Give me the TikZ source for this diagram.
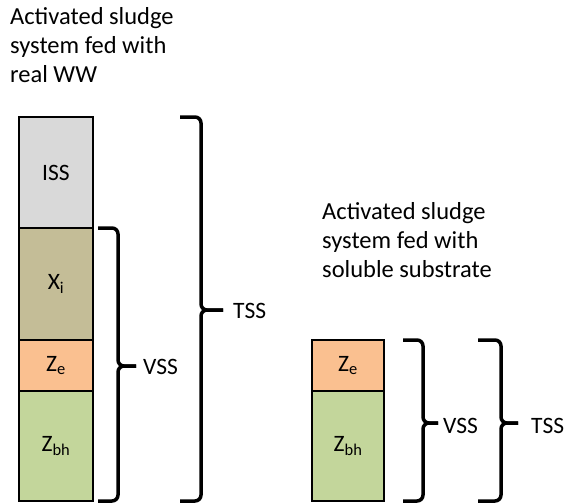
\documentclass[tikz,border=0pt]{standalone}
\usepackage{fontspec}
\setmainfont{Carlito}
\usepackage{tikz}
\usetikzlibrary{positioning}
\definecolor{issgray}{HTML}{D9D9D9}
\definecolor{xitan}{HTML}{C4BD97}
\definecolor{zeorange}{HTML}{FAC090}
\definecolor{zbhgreen}{HTML}{C3D69B}
\tikzset{x=1pt, y=-1pt, node distance=0pt,
  every node/.style={font=\fontsize{23.5}{29}\selectfont},
  seg/.style={draw, line width=1.2pt, minimum width=74pt, outer sep=0pt, inner sep=0pt},
  curly/.style={line width=3.5pt, rounded corners=6pt},
  lbl/.style={anchor=west, inner sep=0pt},
  title/.style={anchor=base west, align=left, inner sep=0pt, font=\fontsize{24.5}{29}\selectfont}}
\newcommand{\curlybrace}[6]{%
  \draw[curly] (#1,#3) -- (#2,#3) -- (#2,#4) -- (#6,#4);
  \draw[curly] (#1,#5) -- (#2,#5) -- (#2,#4) -- (#6,#4);}

\begin{document}
\begin{tikzpicture}
                \useasboundingbox (0,0) rectangle (577,503);
                \node (title1) [title] at (10,82)  {Activated sludge\\system fed with\\real WW};
                \node (title2) [title] at (322,277) {Activated sludge\\system fed with\\soluble substrate};
                \node (iss) [seg, fill=issgray, minimum height=111pt] at (56,172.5) {ISS};
                \node (xi)  [seg, fill=xitan, minimum height=112pt, below=of iss] {X\textsubscript{i}};
                \node (ze)  [seg, fill=zeorange, minimum height=51pt, below=of xi] {Z\textsubscript{e}};
                \node (zbh) [seg, fill=zbhgreen, minimum height=110pt, below=of ze] {Z\textsubscript{bh}};
                \node (ze2)  [seg, fill=zeorange, minimum width=72pt, minimum height=51pt] at (348,365.5) {Z\textsubscript{e}};
                \node (zbh2) [seg, fill=zbhgreen, minimum width=72pt, minimum height=110pt, below=of ze2] {Z\textsubscript{bh}};
                \curlybrace{98}{118}{228}{366}{501}{136}
                \curlybrace{180}{201}{117}{310}{501}{223}
                \curlybrace{403}{423}{340}{423}{501}{438}
                \curlybrace{478}{501}{340}{423}{501}{518}
                \node (vss)  [lbl] at (143,367) {VSS};
                \node (tss)  [lbl] at (233,311) {TSS};
                \node (vss2) [lbl] at (443,426) {VSS};
                \node (tss2) [lbl] at (531,426) {TSS};
              \end{tikzpicture}
\end{document}
